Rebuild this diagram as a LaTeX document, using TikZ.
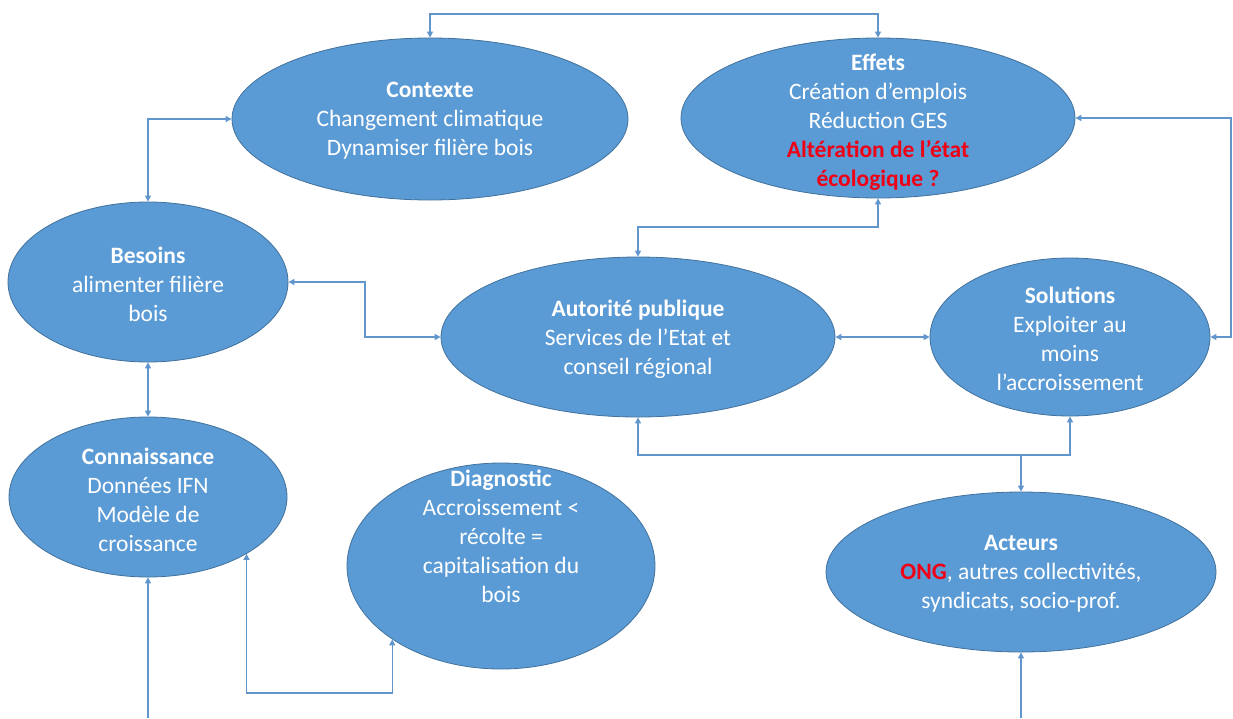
\documentclass[tikz,border=0pt]{standalone}
\usepackage{fontspec}
\setmainfont{Carlito}
\usetikzlibrary{
    arrows.meta,
    positioning,
    shapes.geometric
}
\definecolor{EllBlue}{RGB}{91,155,213}
\definecolor{EllEdge}{RGB}{65,113,156}
\definecolor{LinkBlue}{RGB}{96,150,204}
\definecolor{AlertRed}{RGB}{240,0,20}
\tikzset{
  bubble/.style = {ellipse, draw=EllEdge, fill=EllBlue, line width=0.8pt,
                   inner sep=0pt},
  txt/.style    = {text=white, align=center, yshift=-2pt,
                   font=\fontsize{23.5}{29}\selectfont},
  arr/.style    = {-{Triangle[length=6pt,width=6pt]}, LinkBlue, line width=1.3pt},
  biarr/.style  = {{Triangle[length=6pt,width=6pt]}-{Triangle[length=6pt,width=6pt]},
                   LinkBlue, line width=1.3pt}
}

\begin{document}
\begin{tikzpicture}[x=1pt, y=-1pt]
\useasboundingbox (0,0) rectangle (1233,718);

% Ellipses
\node[bubble, minimum width=396pt, minimum height=162pt] (ctx) at (430,119) {};
\node[bubble, minimum width=394pt, minimum height=160pt] (eff) at (878,118) {};
\node[bubble, minimum width=280pt, minimum height=160pt] (bes) at (148,282) {};
\node[bubble, minimum width=394pt, minimum height=160pt] (aut) at (638,337) {};
\node[bubble, minimum width=280pt, minimum height=158pt] (sol) at (1070,337) {};
\node[bubble, minimum width=278pt, minimum height=160pt] (con) at (148,497) {};
\node[bubble, minimum width=308pt, minimum height=206pt] (dia) at (501,566) {};
\node[bubble, minimum width=390pt, minimum height=160pt] (act) at (1021,572) {};

% Texts
\node[txt] (ctxt) at (ctx) {\textbf{Contexte}\\Changement climatique\\Dynamiser filière bois};
\node[txt] (efft) at (878,120) {\textbf{Effets}\\Création d’emplois\\Réduction GES\\
  \textcolor{AlertRed}{\textbf{Altération de l’état}}\\\textcolor{AlertRed}{\textbf{écologique ?}}};
\node[txt] (best) at (bes) {\textbf{Besoins}\\alimenter filière\\bois};
\node[txt] (autt) at (aut) {\textbf{Autorité publique}\\Services de l’Etat et\\conseil régional};
\node[txt] (solt) at (sol) {\textbf{Solutions}\\Exploiter au\\moins\\l’accroissement};
\node[txt] (cont) at (148,498) {\textbf{Connaissance}\\Données IFN\\Modèle de\\croissance};
\node[txt] (diat) at (501,534) {\textbf{Diagnostic}\\Accroissement <\\récolte =\\capitalisation du\\bois};
\node[txt] (actt) at (act) {\textbf{Acteurs}\\\textcolor{AlertRed}{\textbf{ONG}}, autres collectivités,\\syndicats, socio-prof.};

% Free ends and junction
\coordinate (jn) at (act.north |- 0,455);
\coordinate (conin) at (con.south |- 0,718);
\coordinate (actin) at (act.south |- 0,718);

% Links
\draw[biarr] (ctx.north) -- (ctx.north |- 0,14) -| (eff.north);
\draw[biarr] (bes.north) |- (ctx.west);
\draw[biarr] (bes.east) -- (bes.east -| 365,0) |- (aut.west);
\draw[biarr] (bes.south) -- (con.north);
\draw[biarr] (eff.south) -- (eff.south |- 0,227) -| (aut.north);
\draw[biarr] (eff.east) -- (eff.east -| 1231,0) |- (sol.east);
\draw[biarr] (aut.east) -- (sol.west);
\draw[arr] (jn) -| (aut.south);
\draw[arr] (jn) -| (sol.south);
\draw[arr] (jn) -- (act.north);
\draw[arr] (actin) -- (act.south);
\draw[arr] (conin) -- (con.south);
\draw[biarr] (con.-30) -- (con.-30 |- 0,693) -| (dia.-146);
\end{tikzpicture}
\end{document}
